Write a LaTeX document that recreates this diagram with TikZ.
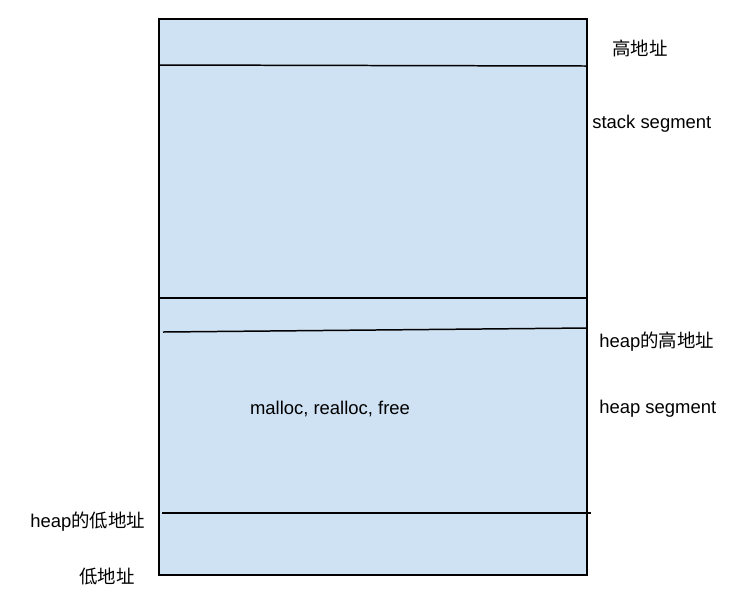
\documentclass[tikz,border=0pt]{standalone}
\usepackage{fontspec}
\setmainfont{Liberation Sans}
\newfontfamily\cjkfont{Noto Sans CJK SC}
\usepackage{tikz}
\usetikzlibrary{positioning}
\definecolor{SegFill}{HTML}{CFE2F3}
\definecolor{SegLine}{HTML}{000000}

\begin{document}
\begin{tikzpicture}[x=0.02cm,y=-0.02cm, every node/.style={font=\fontsize{10.5}{12}\selectfont, inner sep=0pt}]
    \useasboundingbox (0,0) rectangle (755,610);

    % memory block
    \draw[SegLine, line width=1.1pt, fill=SegFill] (159,19) rectangle (587,575);
    \draw[SegLine, line width=0.85pt] (159,65) -- (587,66);
    \draw[SegLine, line width=0.85pt] (159,298) -- (587,298);
    \draw[SegLine, line width=0.85pt] (163,332) -- (587,328);
    \draw[SegLine, line width=0.85pt] (162,513) -- (591,513);

    % labels
    \node (high) at (640,48) {\cjkfont 高地址};
    \node[anchor=west] (stack) at (592,124) {stack segment};
    \node[anchor=west] (heaphigh) at (599,342) {heap\cjkfont 的高地址};
    \node[anchor=west] (heap) at (599,409) {heap segment};
    \node (alloc) at (330,409) {malloc, realloc, free};
    \node[anchor=west] (heaplow) at (30,522) {heap\cjkfont 的低地址};
    \node (low) at (107,577) {\cjkfont 低地址};
  \end{tikzpicture}
\end{document}
